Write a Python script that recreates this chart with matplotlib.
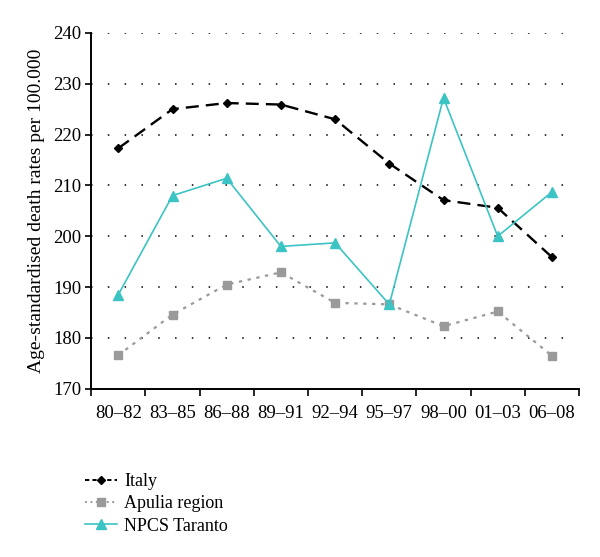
import numpy as np
import matplotlib.pyplot as plt
from matplotlib.lines import Line2D

periods = ["80–82", "83–85", "86–88", "89–91", "92–94", "95–97", "98–00", "01–03", "06–08"]
italy = [217.3, 225.0, 226.2, 225.9, 223.0, 214.3, 207.1, 205.6, 195.9]
apulia = [176.6, 184.6, 190.5, 192.9, 186.9, 186.6, 182.3, 185.2, 176.5]
taranto = [188.5, 208.0, 211.4, 198.0, 198.7, 186.6, 227.2, 200.0, 208.7]

plt.rcParams['font.family'] = ['Liberation Serif', 'DejaVu Serif']

fig = plt.figure(figsize=(6, 5.57), dpi=100)
ax = fig.add_axes([0.152, 0.302, 0.813, 0.639])

x = np.arange(len(periods))
ax.plot(x, italy, color="black", ls=(0, (5.5, 3)), lw=1.7, marker="D", ms=4.5)
ax.plot(x, apulia, color="#9a9a9a", ls=(0, (1.5, 2.5)), lw=1.6, marker="s", ms=6)
ax.plot(x, taranto, color="#3cc3c3", ls="-", lw=1.2, marker="^", ms=6.5)

ax.set_xlim(-0.5, len(periods) - 0.5)
ax.set_ylim(170, 240)
ax.set_yticks(np.arange(170, 241, 10))
ax.set_xticks(x)
ax.set_xticklabels(periods)
ax.set_xticks(np.arange(-0.5, len(periods), 1), minor=True)
ax.tick_params(axis="x", which="major", length=0, pad=12, labelsize=13.5)
ax.tick_params(axis="x", which="minor", length=5, width=1.2, direction="out")
ax.tick_params(axis="y", length=4, width=1.2, labelsize=13.5, pad=3)

for v in range(180, 241, 10):
    ax.axhline(v, xmin=0, xmax=0.99, color="black", ls=(0, (1, 10)), lw=1.1, zorder=0)

for s in ["top", "right"]:
    ax.spines[s].set_visible(False)
ax.spines["left"].set_linewidth(1.4)
ax.spines["bottom"].set_linewidth(1.4)

ax.set_ylabel("Age-standardised death rates per 100.000", fontsize=14, labelpad=6)

# legend handles with shorter dashes so the pattern shows
handles = [
    Line2D([], [], color="black", ls=(0, (2.2, 1.6)), lw=1.4, marker="D", ms=4.5),
    Line2D([], [], color="#9a9a9a", ls=(0, (1, 1.8)), lw=1.4, marker="s", ms=6),
    Line2D([], [], color="#3cc3c3", ls="-", lw=1.2, marker="^", ms=6.5),
]
fig.legend(handles, ["Italy", "Apulia region", "NPCS Taranto"], loc="upper left",
           bbox_to_anchor=(0.13, 0.163), frameon=False, fontsize=13,
           handlelength=1.75, handletextpad=0.4, labelspacing=0.28, borderaxespad=0)

fig.savefig("out.png", dpi=100)
